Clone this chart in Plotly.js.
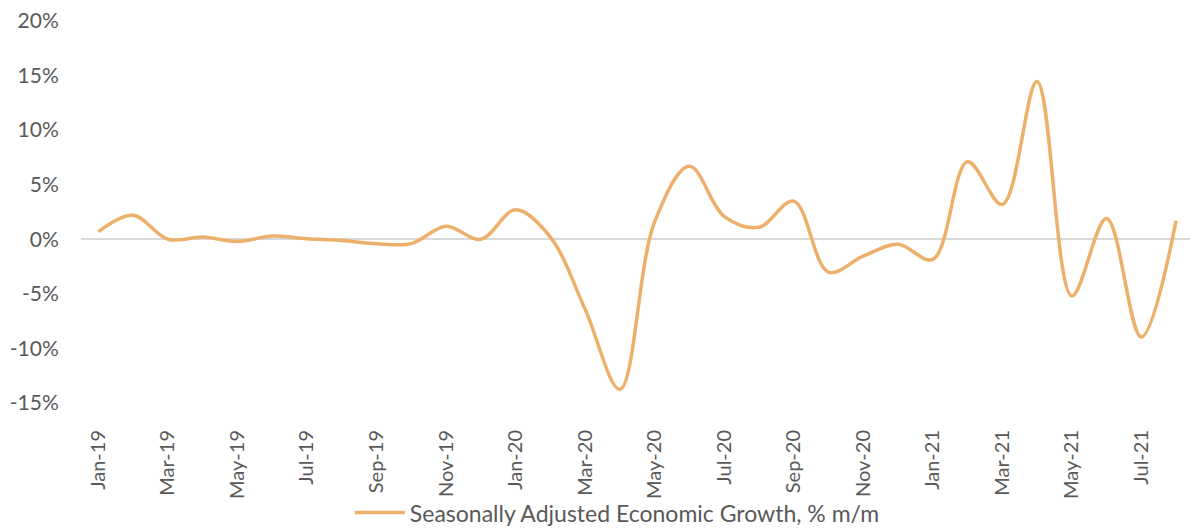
<!DOCTYPE html>
<html>
<head>
<meta charset="utf-8">
<script src="https://cdn.plot.ly/plotly-3.0.1.min.js"></script>
<style>html,body{margin:0;padding:0;background:#fff;}#chart{width:1190px;height:529px;}</style>
</head>
<body>
<div id="chart"></div>
<script>
const months = ["Jan-19","Feb-19","Mar-19","Apr-19","May-19","Jun-19","Jul-19","Aug-19","Sep-19","Oct-19","Nov-19","Dec-19",
                "Jan-20","Feb-20","Mar-20","Apr-20","May-20","Jun-20","Jul-20","Aug-20","Sep-20","Oct-20","Nov-20","Dec-20",
                "Jan-21","Feb-21","Mar-21","Apr-21","May-21","Jun-21","Jul-21","Aug-21"];
const growth = [0.7, 2.2, 0.0, 0.2, -0.2, 0.3, 0.05, -0.1, -0.4, -0.4, 1.2, 0.0,
                2.7, 0.2, -6.4, -13.75, 1.6, 6.7, 2.1, 1.1, 3.5, -3.0, -1.55, -0.45,
                -1.85, 7.1, 3.2, 14.45, -5.2, 1.9, -8.95, 1.7];
const tickLabels = ["Jan-19","Mar-19","May-19","Jul-19","Sep-19","Nov-19","Jan-20","Mar-20","May-20","Jul-20",
                    "Sep-20","Nov-20","Jan-21","Mar-21","May-21","Jul-21"];
const yTicks = [-15, -10, -5, 0, 5, 10, 15, 20];
const yTickLabels = ["-15%", "-10%", "-5%", "0%", "5%", "10%", "15%", "20%"];
const seriesName = "Seasonally Adjusted Economic Growth, % m/m";

const FONT = "Lato, 'Open Sans', sans-serif";
const trace = {
  x: months, y: growth, type: "scatter", mode: "lines", name: seriesName,
  line: {color: "#EDB06B", width: 3.5, shape: "spline", smoothing: 1},
  hoverinfo: "skip"
};
const layout = {
  width: 1190, height: 529,
  margin: {l: 81, r: 0, t: 21, b: 126},
  paper_bgcolor: "#fff", plot_bgcolor: "#fff",
  font: {family: FONT, color: "#595959", size: 21},
  showlegend: true,
  xaxis: {
    type: "category", range: [-0.5, 31.4], automargin: false,
    tickmode: "array", tickvals: tickLabels, ticktext: tickLabels,
    tickangle: -90, showgrid: false, zeroline: false, showline: false,
    ticks: "outside", ticklen: 18, tickcolor: "rgba(0,0,0,0)",
    tickfont: {family: FONT, size: 20, color: "#595959"}
  },
  yaxis: {
    range: [-15, 20], automargin: false, tickmode: "array", tickvals: yTicks, ticktext: yTickLabels,
    showgrid: false, showline: false,
    zeroline: true, zerolinecolor: "#D9D9D9", zerolinewidth: 2,
    ticks: "outside", ticklen: 17, tickcolor: "rgba(0,0,0,0)",
    tickfont: {family: FONT, size: 21, color: "#595959"}
  },
  legend: {
    orientation: "h", xref: "container", yref: "container",
    x: 0.294, xanchor: "left", y: 0.031, yanchor: "middle",
    itemwidth: 50,
    font: {family: FONT, size: 23, color: "#595959"}, bgcolor: "rgba(0,0,0,0)"
  }
};
Plotly.newPlot("chart", [trace], layout, {displayModeBar: false, staticPlot: true});
</script>
</body>
</html>
